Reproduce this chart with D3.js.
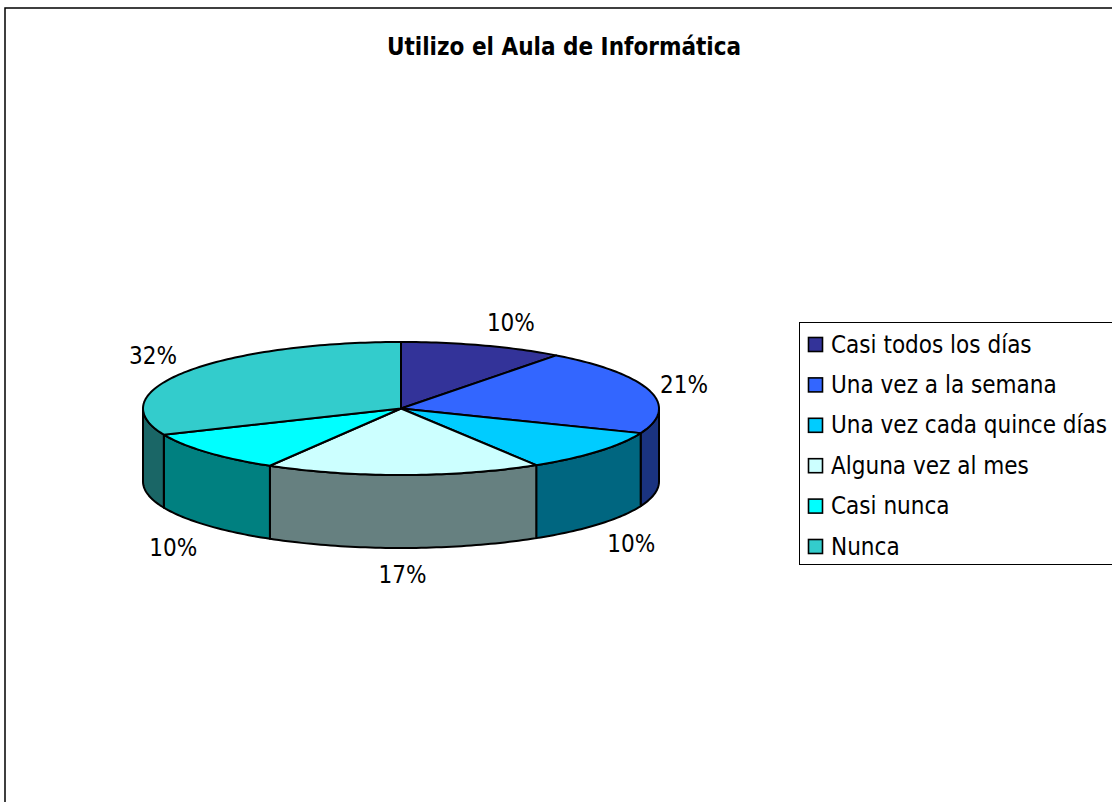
<!DOCTYPE html>
<html>
<head>
<meta charset="utf-8">
<script src="https://cdn.jsdelivr.net/npm/d3@7"></script>
<style>
  html, body { margin: 0; padding: 0; background: #fff; overflow: hidden; }
  text { font-family: "DejaVu Sans", sans-serif; font-stretch: condensed; fill: #000; }
</style>
</head>
<body>
<svg id="chart" width="1112" height="802"></svg>
<script>
var titleText = "Utilizo el Aula de Informática";
var categories = ["Casi todos los días", "Una vez a la semana", "Una vez cada quince días", "Alguna vez al mes", "Casi nunca", "Nunca"];
// shares read from the slice edges, the labels round them
var values = [10.3, 20.8, 10.2, 17.3, 10.1, 31.5];
var topColors = ["#333399", "#3366FF", "#00CCFF", "#CCFFFF", "#00FFFF", "#33CCCC"];
var sideColors = ["#1A1A4D", "#1A3380", "#006680", "#668080", "#008080", "#1A6666"];

var svg = d3.select("#chart");

// chart frame runs off the right and bottom of the window
svg.append("rect")
    .attr("x", 5).attr("y", 8)
    .attr("width", 1200).attr("height", 900)
    .attr("fill", "#fff").attr("stroke", "#000").attr("stroke-width", 1.5);

svg.append("text")
    .attr("x", 564).attr("y", 55)
    .attr("text-anchor", "middle")
    .attr("font-size", 24).attr("font-weight", "bold")
    .text(titleText);

var x = d3.scaleLinear().domain([-1, 1]).range([143, 659]);
var y = d3.scaleLinear().domain([-1, 1]).range([342, 475]);
var depth = 73;

var pie = d3.pie().sort(null).value(function(d) { return d; });
var slices = pie(values);

var lineGen = d3.line();
function rim(a) { return [x(Math.sin(a)), y(-Math.cos(a))]; }
function rimPoints(a0, a1) {
    var n = Math.max(2, Math.ceil((a1 - a0) / 0.02));
    return d3.range(n + 1).map(function(i) { return rim(a0 + (a1 - a0) * i / n); });
}

// side walls, only the front half of the disc shows
var wallStart = Math.PI / 2, wallEnd = Math.PI * 1.5;
slices.forEach(function(s, i) {
    var a0 = Math.max(s.startAngle, wallStart), a1 = Math.min(s.endAngle, wallEnd);
    if (a1 <= a0) return;
    var upper = rimPoints(a0, a1);
    var lower = upper.slice().reverse().map(function(p) { return [p[0], p[1] + depth]; });
    svg.append("path")
        .attr("d", lineGen(upper.concat(lower)) + "Z")
        .attr("fill", sideColors[i])
        .attr("stroke", "#000").attr("stroke-width", 2).attr("stroke-linejoin", "round");
});

// top faces
slices.forEach(function(s, i) {
    var pts = [[x(0), y(0)]].concat(rimPoints(s.startAngle, s.endAngle));
    svg.append("path")
        .attr("d", lineGen(pts) + "Z")
        .attr("fill", topColors[i])
        .attr("stroke", "#000").attr("stroke-width", 2).attr("stroke-linejoin", "round");
});

// percent labels, offset from the rim at each slice's middle angle
var labelDx = [28, 34.5, 32.7, -1, -34, -32.6];
var labelDy = [-14, 2.5, 100.5, 108, 103.5, -8];
slices.forEach(function(s, i) {
    var p = rim((s.startAngle + s.endAngle) / 2);
    svg.append("text")
        .attr("x", p[0] + labelDx[i])
        .attr("y", p[1] + labelDy[i])
        .attr("text-anchor", "middle")
        .attr("font-size", 24)
        .text(Math.round(s.data) + "%");
});

// legend
var legend = svg.append("g");
legend.append("rect")
    .attr("x", 799.5).attr("y", 322.5)
    .attr("width", 330).attr("height", 242)
    .attr("fill", "#fff").attr("stroke", "#000").attr("stroke-width", 1);

var rowY = d3.scalePoint().domain(categories).range([344, 546]);
var rows = legend.selectAll("g.row").data(categories).enter().append("g").attr("class", "row");
rows.append("rect")
    .attr("x", 808.5)
    .attr("y", function(d) { return rowY(d) - 6.5; })
    .attr("width", 14).attr("height", 14)
    .attr("fill", function(d, i) { return topColors[i]; })
    .attr("stroke", "#000").attr("stroke-width", 1.6);
rows.append("text")
    .attr("x", 831)
    .attr("y", function(d) { return rowY(d) + 8.5; })
    .attr("font-size", 24)
    .text(function(d) { return d; });
</script>
</body>
</html>
